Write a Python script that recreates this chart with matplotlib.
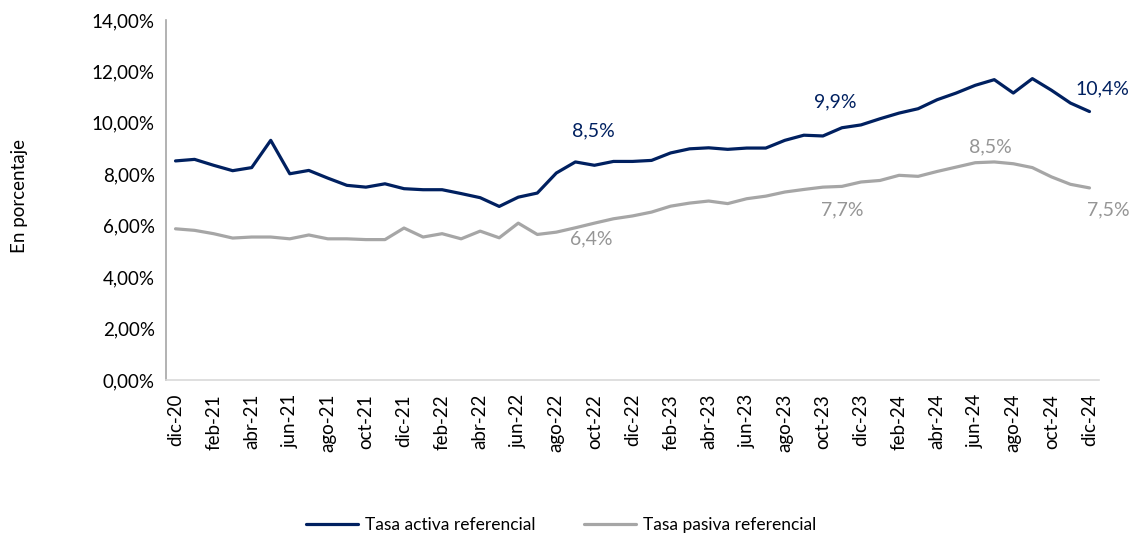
import matplotlib
matplotlib.use("Agg")
import matplotlib.pyplot as plt
from matplotlib.ticker import FuncFormatter

# ---- data ----
month_abbr = ["ene", "feb", "mar", "abr", "may", "jun", "jul", "ago", "sep", "oct", "nov", "dic"]
categories = ["dic-20"] + [f"{m}-{y}" for y in (21, 22, 23, 24) for m in month_abbr]

tasa_activa = [8.52, 8.58, 8.35, 8.14, 8.26, 9.32, 8.02, 8.15, 7.85, 7.57,
               7.50, 7.63, 7.44, 7.40, 7.40, 7.25, 7.09, 6.75, 7.11, 7.27,
               8.05, 8.48, 8.35, 8.50, 8.50, 8.54, 8.83, 8.99, 9.03, 8.97,
               9.02, 9.02, 9.32, 9.52, 9.49, 9.81, 9.92, 10.16, 10.38, 10.55,
               10.90, 11.16, 11.46, 11.68, 11.16, 11.72, 11.27, 10.77, 10.44]

tasa_pasiva = [5.88, 5.82, 5.69, 5.52, 5.56, 5.56, 5.49, 5.64, 5.49, 5.49,
               5.46, 5.46, 5.91, 5.56, 5.69, 5.49, 5.79, 5.53, 6.10, 5.66,
               5.75, 5.92, 6.10, 6.27, 6.38, 6.53, 6.76, 6.88, 6.96, 6.86,
               7.05, 7.15, 7.31, 7.41, 7.50, 7.53, 7.70, 7.76, 7.96, 7.92,
               8.11, 8.28, 8.45, 8.48, 8.41, 8.26, 7.90, 7.61, 7.47]

series_names = ["Tasa activa referencial", "Tasa pasiva referencial"]
y_label = "En porcentaje"

# data labels: (category, text)
labels_activa = [("dic-22", "8,5%"), ("dic-23", "9,9%"), ("dic-24", "10,4%")]
labels_pasiva = [("dic-22", "6,4%"), ("dic-23", "7,7%"), ("jun-24", "8,5%"), ("dic-24", "7,5%")]

# ---- style ----
plt.rcParams["font.family"] = ["Lato", "DejaVu Sans"]
navy = "#002060"
grey = "#A6A6A6"
grey_text = "#959595"
fs = 13.5

fig = plt.figure(figsize=(11.34, 5.37), dpi=100)
ax = fig.add_axes([166 / 1134, 1 - 380 / 537, (1099 - 166) / 1134, 360 / 537])

x = list(range(len(categories)))
ax.plot(x, tasa_activa, color=navy, lw=2.3, solid_joinstyle="round", solid_capstyle="round",
        label=series_names[0])
ax.plot(x, tasa_pasiva, color=grey, lw=2.3, solid_joinstyle="round", solid_capstyle="round",
        label=series_names[1])

ax.set_xlim(-0.5, len(categories) - 0.5)
ax.set_ylim(0, 14)
ax.set_yticks(range(0, 15, 2))
ax.yaxis.set_major_formatter(FuncFormatter(lambda v, p: f"{v:.2f}".replace(".", ",") + "%"))
ax.set_xticks(x[::2])
ax.set_xticklabels(categories[::2], rotation=90, va="top", ha="center")
ax.tick_params(axis="both", length=0, labelsize=fs, colors="#000000")
ax.tick_params(axis="x", pad=10)
ax.tick_params(axis="y", pad=8)

for s in ("top", "right"):
    ax.spines[s].set_visible(False)
ax.spines["left"].set_color("#A6A6A6")
ax.spines["left"].set_linewidth(1.2)
ax.spines["bottom"].set_color("#D9D9D9")
ax.spines["bottom"].set_linewidth(1.2)

fig.text(20 / 1134, 1 - 196 / 537, y_label, rotation=90, ha="center", va="center", fontsize=fs)

offsets_activa = {"dic-22": (-39, 31), "dic-23": (-26, 23), "dic-24": (13, 23)}
offsets_pasiva = {"dic-22": (-41, -23), "dic-23": (-19, -28), "jun-24": (15, 16), "dic-24": (19, -22)}

for cat, txt in labels_activa:
    i = categories.index(cat)
    ax.annotate(txt, (i, tasa_activa[i]), xytext=offsets_activa[cat], textcoords="offset pixels",
                ha="center", va="center", color=navy, fontsize=14)
for cat, txt in labels_pasiva:
    i = categories.index(cat)
    ax.annotate(txt, (i, tasa_pasiva[i]), xytext=offsets_pasiva[cat], textcoords="offset pixels",
                ha="center", va="center", color=grey_text, fontsize=14)

fig.legend(loc="center", bbox_to_anchor=(561 / 1134, 1 - 525 / 537), ncol=2, frameon=False,
           fontsize=12.5, handlelength=3.0, columnspacing=2.8, handletextpad=0.4)

fig.savefig("out.png", dpi=100)
